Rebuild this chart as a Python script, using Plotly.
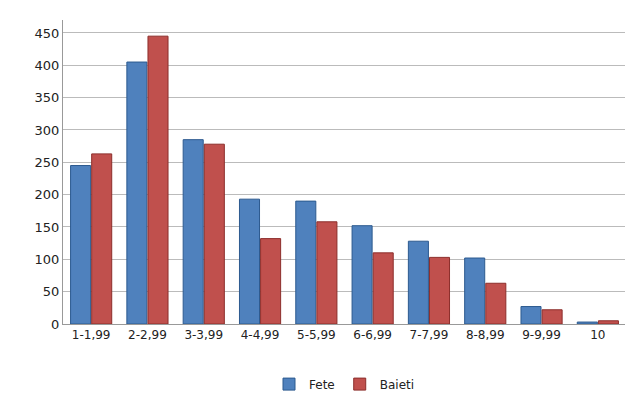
import plotly.graph_objects as go

categories = ["1-1,99","2-2,99","3-3,99","4-4,99","5-5,99","6-6,99","7-7,99","8-8,99","9-9,99","10"]
fete = [245, 405, 285, 193, 190, 152, 128, 102, 27, 3]
baieti = [263, 445, 278, 132, 158, 110, 103, 63, 22, 5]

fig = go.Figure()
fig.add_bar(name="Fete", x=categories, y=fete, marker=dict(color="#4F81BD", line=dict(color="#2C5A8F", width=1)))
fig.add_bar(name="Baieti", x=categories, y=baieti, marker=dict(color="#C0504D", line=dict(color="#8C2E2B", width=1)))
fig.update_layout(
    width=633, height=403, paper_bgcolor="white", plot_bgcolor="white",
    font=dict(family="DejaVu Sans", size=13, color="#222"),
    margin=dict(l=55, r=15, t=12, b=83),
    barmode="group", bargap=0.25, bargroupgap=0.05,
    legend=dict(orientation="h", x=0.5, xanchor="center", y=-0.15, yanchor="top", font=dict(size=12)),
    yaxis=dict(range=[0, 470], dtick=50, showgrid=True, gridcolor="#BBBBBB", showline=True, linecolor="#999", ticks=""),
    xaxis=dict(showline=True, linecolor="#999", tickfont=dict(size=12)),
)
fig.write_html("out.html")
